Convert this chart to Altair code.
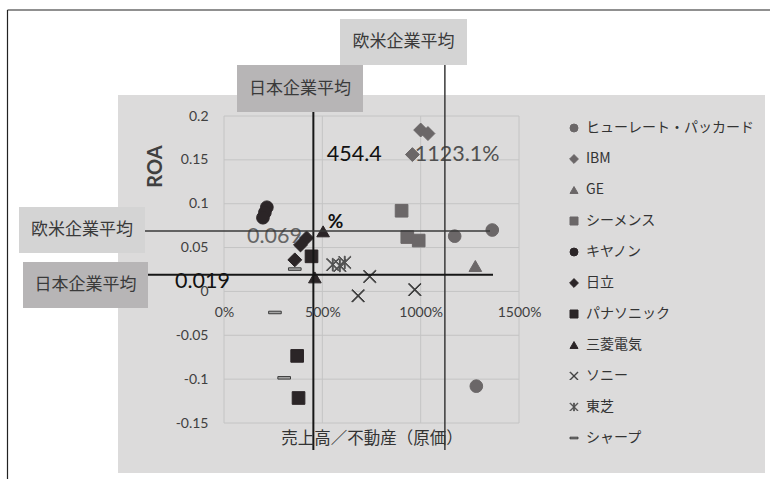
import altair as alt
import pandas as pd

# ---- data -----------------------------------------------------------------
companies = ["ヒューレート・パッカード", "IBM", "GE", "シーメンス", "キヤノン", "日立",
             "パナソニック", "三菱電気", "ソニー", "東芝", "シャープ"]

# sales / real estate (%), ROA
hp_x, hp_y = [1173, 1364, 1283], [0.063, 0.070, -0.108]
ibm_x, ibm_y = [1000, 1037, 958], [0.184, 0.180, 0.156]
ge_x, ge_y = [1278], [0.029]
siemens_x, siemens_y = [903, 932, 990], [0.092, 0.062, 0.058]
canon_x, canon_y = [218, 208, 198], [0.096, 0.090, 0.084]
hitachi_x, hitachi_y = [420, 389, 360], [0.061, 0.053, 0.036]
panasonic_x, panasonic_y = [445, 372, 379], [0.040, -0.0735, -0.1215]
mitsubishi_x, mitsubishi_y = [504, 462], [0.0685, 0.016]
sony_x, sony_y = [741, 682, 970], [0.017, -0.005, 0.002]
toshiba_x, toshiba_y = [553, 589, 614], [0.0305, 0.0295, 0.033]
sharp_x, sharp_y = [360, 259, 306], [0.0255, -0.024, -0.0985]

# group averages
JP_X, EU_X = 454.4, 1123.1
EU_Y, JP_Y = 0.069, 0.019

x_ticks = [0, 500, 1000, 1500]
y_ticks = [-0.15, -0.1, -0.05, 0, 0.05, 0.1, 0.15, 0.2]

series = [hp_x, ibm_x, ge_x, siemens_x, canon_x, hitachi_x, panasonic_x,
          mitsubishi_x, sony_x, toshiba_x, sharp_x]
series_y = [hp_y, ibm_y, ge_y, siemens_y, canon_y, hitachi_y, panasonic_y,
            mitsubishi_y, sony_y, toshiba_y, sharp_y]
rows = []
for name, xs_, ys_ in zip(companies, series, series_y):
    for xv, yv in zip(xs_, ys_):
        rows.append({"company": name, "x": xv, "y": yv})
points = pd.DataFrame(rows)

# ---- styling ----------------------------------------------------------------
JP = "Noto Sans CJK JP"
NUM = "Lato"
W, H = 295, 307          # plot area
X0, Y0 = 224, 116        # plot origin on the page

GRAY, DARK = "#6b6768", "#2b2527"
fills = [GRAY, GRAY, GRAY, GRAY, DARK, DARK, DARK, DARK, "#3c3c3c", "#505050", "#a5a5a5"]
strokes = fills[:10] + ["#3c3c3c"]
DIAMOND_PATH = "M0,-1.1L1.1,0L0,1.1L-1.1,0Z"
X_PATH = "M-1,-0.9L-0.9,-1L1,0.9L0.9,1Z M0.9,-1L1,-0.9L-0.9,1L-1,0.9Z"
STAR_PATH = X_PATH + " M-0.07,-1L0.07,-1L0.07,1L-0.07,1Z"
DASH_PATH = "M-1,-0.2L1,-0.2L1,0.2L-1,0.2Z"
shapes = ["circle", DIAMOND_PATH, "triangle-up", "square", "circle", DIAMOND_PATH,
          "square", "triangle-up", X_PATH, STAR_PATH, DASH_PATH]

xs = alt.Scale(domain=[0, 1500], nice=False, zero=False)
ys = alt.Scale(domain=[-0.15, 0.2], nice=False, zero=False)

x_axis = alt.Axis(values=x_ticks, labelExpr="datum.value + '%'", grid=False, domain=False,
                  ticks=False, tickSize=0, labelPadding=14, offset=-132, labelFlush=False,
                  labelFont=NUM, labelFontSize=14, labelColor="#404040",
                  title="売上高／不動産（原価）", titleFont=JP, titleFontSize=16.5,
                  titleFontWeight="normal", titleColor="#333", titleY=147,
                  titleBaseline="middle", zindex=1)
y_axis = alt.Axis(values=y_ticks, labelExpr="toString(round(datum.value * 100) / 100)",
                  grid=False, domain=False, ticks=False, tickSize=0, labelPadding=16,
                  labelFont=NUM, labelFontSize=14, labelColor="#404040",
                  title="ROA", titleFont=NUM, titleFontSize=20, titleFontWeight="bold",
                  titleColor="#404040", titleX=-69, titleY=50, titleAngle=270,
                  titleAlign="center", titleBaseline="middle", zindex=1)


def X(field):
    return alt.X(field, scale=xs, axis=x_axis)


def Y(field):
    return alt.Y(field, scale=ys, axis=y_axis)


one = pd.DataFrame({"k": [0]})


def page_rect(x1, y1, x2, y2, color):
    return alt.Chart(one).mark_rect(color=color).encode(
        x=alt.value(x1 - X0), x2=alt.value(x2 - X0),
        y=alt.value(y1 - Y0), y2=alt.value(y2 - Y0))


def page_text(cx, cy, text, size=17, color="#3a3a3a"):
    return alt.Chart(one).mark_text(text=text, font=JP, fontSize=size, color=color,
                                    align="center", baseline="middle").encode(
        x=alt.value(cx - X0), y=alt.value(cy - Y0))


# grey panel and frame
panel = page_rect(118, 95, 765, 473, "#dcdbdb")
frame_v = alt.Chart(one).mark_rule(color="#222", strokeWidth=1.2).encode(
    x=alt.value(7.5 - X0), y=alt.value(10 - Y0), y2=alt.value(479 - Y0))
frame_h = alt.Chart(one).mark_rule(color="#222", strokeWidth=1.2).encode(
    y=alt.value(10 - Y0), x=alt.value(7.5 - X0), x2=alt.value(770 - X0))

# gridlines
grid_v = alt.Chart(pd.DataFrame({"x": x_ticks})).mark_rule(color="#c4c4c4", strokeWidth=1).encode(
    x=X("x:Q"), y=alt.value(0), y2=alt.value(H))
grid_h = alt.Chart(pd.DataFrame({"y": y_ticks})).mark_rule(color="#c4c4c4", strokeWidth=1).encode(
    y=Y("y:Q"), x=alt.value(0), x2=alt.value(W))

leg = alt.Legend(title=None, orient="none", legendX=343, legendY=5, padding=0,
                 labelFont=JP, labelFontSize=14, labelColor="#333", labelLimit=300,
                 symbolSize=64, symbolStrokeWidth=1, labelOffset=5, rowPadding=17)

pts = alt.Chart(points).mark_point(filled=True, opacity=1, size=160, strokeWidth=1).encode(
    x=X("x:Q"),
    y=Y("y:Q"),
    fill=alt.Fill("company:N", scale=alt.Scale(domain=companies, range=fills), legend=leg),
    stroke=alt.Stroke("company:N", scale=alt.Scale(domain=companies, range=strokes), legend=leg),
    shape=alt.Shape("company:N", scale=alt.Scale(domain=companies, range=shapes), legend=leg),
)


# value labels of the averages
def note(text, ax, ay, color, size=21.5, weight="normal"):
    return alt.Chart(pd.DataFrame({"x": [ax], "y": [ay]})).mark_text(
        text=text, font=NUM, fontSize=size, fontWeight=weight, color=color,
        align="left", baseline="middle").encode(x=X("x:Q"), y=Y("y:Q"))


notes = [
    note(f"{JP_X}", 523, 0.156, "#111"),
    note("%", 528, 0.0795, "#111", size=19, weight="bold"),
    note(f"{EU_X}%", 970, 0.156, "#505050"),
    note(f"{EU_Y}", 117, 0.0625, "#666"),
    note(f"{JP_Y}", -249, 0.0102, "#111"),
]

# average lines
jp_v = alt.Chart(pd.DataFrame({"x": [JP_X]})).mark_rule(color="#161616", strokeWidth=2).encode(
    x=X("x:Q"), y=alt.value(112 - Y0), y2=alt.value(450 - Y0))
eu_v = alt.Chart(pd.DataFrame({"x": [EU_X]})).mark_rule(color="#3a3a3a", strokeWidth=1.5).encode(
    x=X("x:Q"), y=alt.value(65 - Y0), y2=alt.value(450 - Y0))
eu_h = alt.Chart(pd.DataFrame({"y": [EU_Y]})).mark_rule(color="#3a3a3a", strokeWidth=1.5).encode(
    y=Y("y:Q"), x=alt.value(145 - X0), x2=alt.value(490 - X0))
jp_h = alt.Chart(pd.DataFrame({"y": [JP_Y]})).mark_rule(color="#161616", strokeWidth=2).encode(
    y=Y("y:Q"), x=alt.value(148 - X0), x2=alt.value(493 - X0))

# callout boxes
EU_BOX, JP_BOX = "#d4d4d4", "#b7b5b6"
callouts = [
    page_rect(340, 19, 467, 65, EU_BOX), page_text(403.5, 42, "欧米企業平均"),
    page_rect(237, 65, 363, 112, JP_BOX), page_text(300, 88.5, "日本企業平均"),
    page_rect(19, 207, 145, 253, EU_BOX), page_text(82, 230, "欧米企業平均"),
    page_rect(23, 262, 148, 308, JP_BOX), page_text(85.5, 285, "日本企業平均"),
]

chart = alt.layer(
    panel, frame_v, frame_h, grid_v, grid_h, pts, *notes, jp_v, eu_v, eu_h, jp_h, *callouts
).properties(
    width=W, height=H,
    autosize=alt.AutoSizeParams(type="none"),
    padding={"left": X0, "top": Y0, "right": 770 - X0 - W, "bottom": 479 - Y0 - H},
    background="white",
).configure_view(strokeWidth=0)

chart.save("out.html", embed_options={"renderer": "svg", "actions": False})
